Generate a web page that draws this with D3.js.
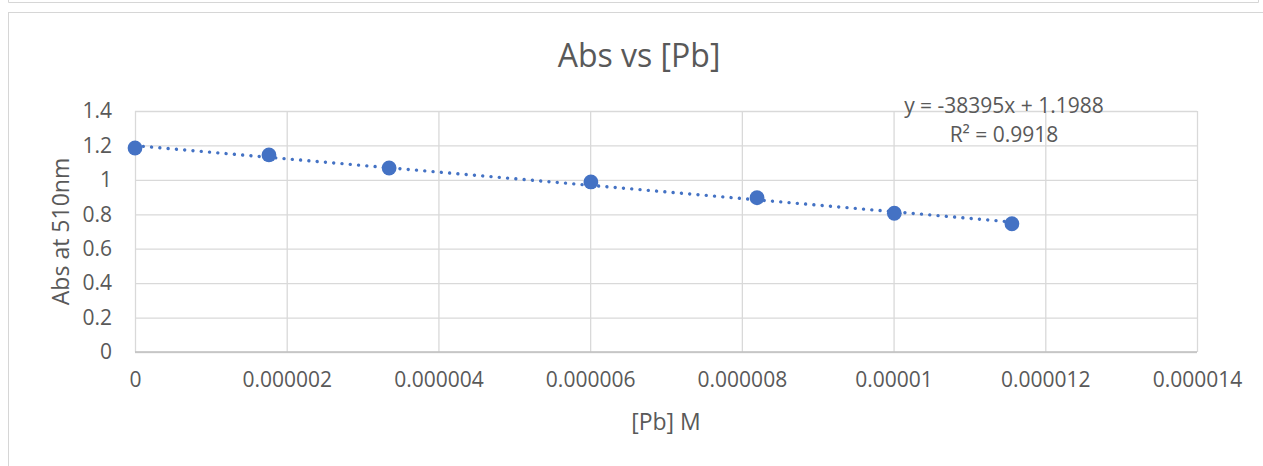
<!DOCTYPE html>
<html>
<head>
<meta charset="utf-8">
<script src="https://cdn.jsdelivr.net/npm/d3@7"></script>
<style>
  html, body { margin: 0; padding: 0; background: #ffffff; }
  svg { display: block; }
  text { font-family: "Open Sans", "Noto Sans", sans-serif; fill: #595959; }
</style>
</head>
<body>
<svg id="chart" width="1263" height="466"></svg>
<script>
// Lead concentration (M) and absorbance at 510 nm
const concentration = [0, 0.000001766, 0.00000335, 0.00000601, 0.0000082, 0.00001001, 0.00001156];
const absorbance = [1.185, 1.145, 1.069, 0.988, 0.896, 0.806, 0.745];

// Linear trendline parameters
const trendSlope = [-38395];
const trendIntercept = [1.1988];
const rSquared = [0.9918];

// Axis ticks
const xTicks = [0, 0.000002, 0.000004, 0.000006, 0.000008, 0.00001, 0.000012, 0.000014];
const xTickLabels = ["0", "0.000002", "0.000004", "0.000006", "0.000008", "0.00001", "0.000012", "0.000014"];
const yTicks = [0, 0.2, 0.4, 0.6, 0.8, 1, 1.2, 1.4];
const yTickLabels = ["0", "0.2", "0.4", "0.6", "0.8", "1", "1.2", "1.4"];

const titleText = "Abs vs [Pb]";
const xTitle = "[Pb] M";
const yTitle = "Abs at 510nm";

const svg = d3.select("#chart");
const blue = "#4472C4";
const gridColor = "#d9d9d9";

// Frames around the chart
svg.append("path")
  .attr("d", "M8.5,0 V2.5 H1258.5 V0")
  .attr("fill", "none").attr("stroke", "#d6d6d6").attr("stroke-width", 1);
svg.append("rect")
  .attr("x", 8.5).attr("y", 12.5).attr("width", 1300).attr("height", 500)
  .attr("fill", "#ffffff").attr("stroke", "#d6d6d6").attr("stroke-width", 1);

const plot = { left: 135, right: 1197, top: 111, bottom: 352 };

const x = d3.scaleLinear().domain([0, 0.000014]).range([plot.left, plot.right]);
const y = d3.scaleLinear().domain([0, 1.4]).range([plot.bottom, plot.top]);

// Gridlines
const yGrid = d3.axisLeft(y).tickValues(yTicks).tickSize(-(plot.right - plot.left)).tickFormat("");
svg.append("g").attr("transform", `translate(${plot.left},0)`).call(yGrid)
  .call(g => g.select(".domain").remove())
  .call(g => g.selectAll("line").attr("stroke", gridColor).attr("stroke-width", 1.3));

const xGrid = d3.axisBottom(x).tickValues(xTicks).tickSize(-(plot.bottom - plot.top)).tickFormat("");
svg.append("g").attr("transform", `translate(0,${plot.bottom})`).call(xGrid)
  .call(g => g.select(".domain").remove())
  .call(g => g.selectAll("line").attr("stroke", gridColor).attr("stroke-width", 1.3));

// Horizontal axis line
svg.append("line")
  .attr("x1", plot.left).attr("x2", plot.right)
  .attr("y1", y(0)).attr("y2", y(0))
  .attr("stroke", "#bfbfbf").attr("stroke-width", 1.5);

// Tick labels
const yAxis = d3.axisLeft(y).tickValues(yTicks).tickSize(0).tickPadding(23)
  .tickFormat((d, i) => yTickLabels[i]);
svg.append("g").attr("transform", `translate(${plot.left},0)`).call(yAxis)
  .call(g => g.select(".domain").remove())
  .call(g => g.selectAll("text").attr("font-size", 21).attr("font-family", null).attr("fill", "#595959"));

const xAxis = d3.axisBottom(x).tickValues(xTicks).tickSize(0).tickPadding(20)
  .tickFormat((d, i) => xTickLabels[i]);
svg.append("g").attr("transform", `translate(0,${plot.bottom})`).call(xAxis)
  .call(g => g.select(".domain").remove())
  .call(g => g.selectAll("text").attr("font-size", 21).attr("font-family", null).attr("fill", "#595959"));

// Trendline across the range of the data
const xExtent = d3.extent(concentration);
const trend = xExtent.map(v => [v, trendSlope[0] * v + trendIntercept[0]]);
svg.append("path")
  .datum(trend)
  .attr("d", d3.line().x(d => x(d[0])).y(d => y(d[1])))
  .attr("fill", "none")
  .attr("stroke", blue)
  .attr("stroke-width", 3.4)
  .attr("stroke-linecap", "round")
  .attr("stroke-dasharray", "0.01 8.3");

// Data points
svg.append("g").selectAll("circle")
  .data(concentration.map((c, i) => [c, absorbance[i]]))
  .join("circle")
  .attr("cx", d => x(d[0]))
  .attr("cy", d => y(d[1]))
  .attr("r", 7.4)
  .attr("fill", blue);

// Trendline equation
const eq = svg.append("text").attr("text-anchor", "middle").attr("font-size", 21);
eq.append("tspan").attr("x", 1004).attr("y", 113)
  .text(`y = ${trendSlope[0]}x + ${trendIntercept[0]}`);
eq.append("tspan").attr("x", 1004).attr("y", 142)
  .text(`R² = ${rSquared[0]}`);

// Titles
svg.append("text")
  .attr("x", 639).attr("y", 67)
  .attr("text-anchor", "middle")
  .attr("font-size", 32)
  .text(titleText);

svg.append("text")
  .attr("x", (plot.left + plot.right) / 2).attr("y", 430)
  .attr("text-anchor", "middle")
  .attr("font-size", 23)
  .text(xTitle);

svg.append("text")
  .attr("transform", `translate(69,${(plot.top + plot.bottom) / 2}) rotate(-90)`)
  .attr("text-anchor", "middle")
  .attr("font-size", 23)
  .text(yTitle);
</script>
</body>
</html>
